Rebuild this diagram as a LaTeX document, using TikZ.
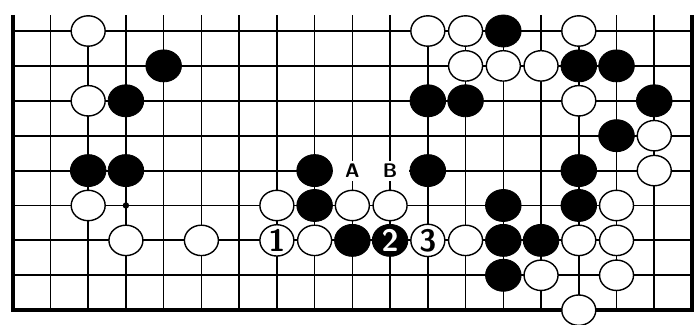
\documentclass[tikz,border=0pt]{standalone}
\definecolor{goNegro}{HTML}{000000}
\definecolor{goPapel}{HTML}{FFFFFF}
\usetikzlibrary{
	positioning,
	shapes.geometric
}
\tikzset{
	piedraNegra/.style={
		ellipse,
		draw=goNegro,
		fill=goNegro,
		line width=0.6pt,
		minimum width=0.89cm,
		minimum height=0.80cm,
		inner sep=0pt,
		text=goPapel,
		font=\fontsize{22}{22}\selectfont\sffamily\bfseries
	},
	piedraBlanca/.style={
		ellipse,
		draw=goNegro,
		fill=goPapel,
		line width=1pt,
		minimum width=0.85cm,
		minimum height=0.76cm,
		inner sep=0pt,
		font=\fontsize{22}{22}\selectfont\sffamily\bfseries
	},
	marca/.style={
		fill=goPapel,
		minimum width=0.96cm,
		minimum height=0.5cm,
		inner sep=0pt,
		font=\fontsize{14}{14}\selectfont\sffamily\bfseries
	},
	lineaHoriz/.style={line width=1.4pt, goNegro},
	lineaVert/.style={line width=1.1pt, goNegro},
	borde/.style={line width=3pt, goNegro, line join=miter},
	hoshi/.style={circle, fill=goNegro, inner sep=0pt, minimum size=0.16cm}
}

\begin{document}
\begin{tikzpicture}[x=0.9435cm, y=0.8725cm]
	\useasboundingbox[fill=goPapel] (-0.3365,-0.401) rectangle (18.106,8.888);
	% tablero
	\foreach \y in {1,...,8}
		\draw[lineaHoriz] (0,\y) -- (18,\y);
	\foreach \x in {1,...,17}
		\draw[lineaVert] (\x,0) -- (\x,8.46);
	\draw[borde] (0,8.46) -- (0,0) -- (18,0) -- (18,8.46);
	\foreach \x in {3,9,15}
		\node[hoshi] (hoshi-\x) at (\x,3) {};
	% piedras negras
	\foreach \x/\y in {13/8, 4/7, 15/7, 16/7, 3/6, 11/6, 12/6, 17/6, 16/5,
		2/4, 3/4, 8/4, 11/4, 15/4, 8/3, 13/3, 15/3, 9/2, 13/2, 14/2, 13/1}
		\node[piedraNegra] (negra-\x-\y) at (\x,\y) {};
	% piedras blancas
	\foreach \x/\y in {2/8, 11/8, 12/8, 15/8, 12/7, 13/7, 14/7, 2/6, 15/6, 17/5,
		17/4, 2/3, 7/3, 9/3, 10/3, 16/3, 3/2, 5/2, 8/2, 12/2, 15/2, 16/2,
		14/1, 16/1, 15/0}
		\node[piedraBlanca] (blanca-\x-\y) at (\x,\y) {};
	% jugadas numeradas
	\node[piedraBlanca] (jugada1) at (7,2) {1};
	\node[piedraNegra] (jugada2) at (10,2) {2};
	\node[piedraBlanca] (jugada3) at (11,2) {3};
	% puntos marcados
	\node[marca] (puntoA) at (9,4) {A};
	\node[marca] (puntoB) at (10,4) {B};
\end{tikzpicture}
\end{document}
